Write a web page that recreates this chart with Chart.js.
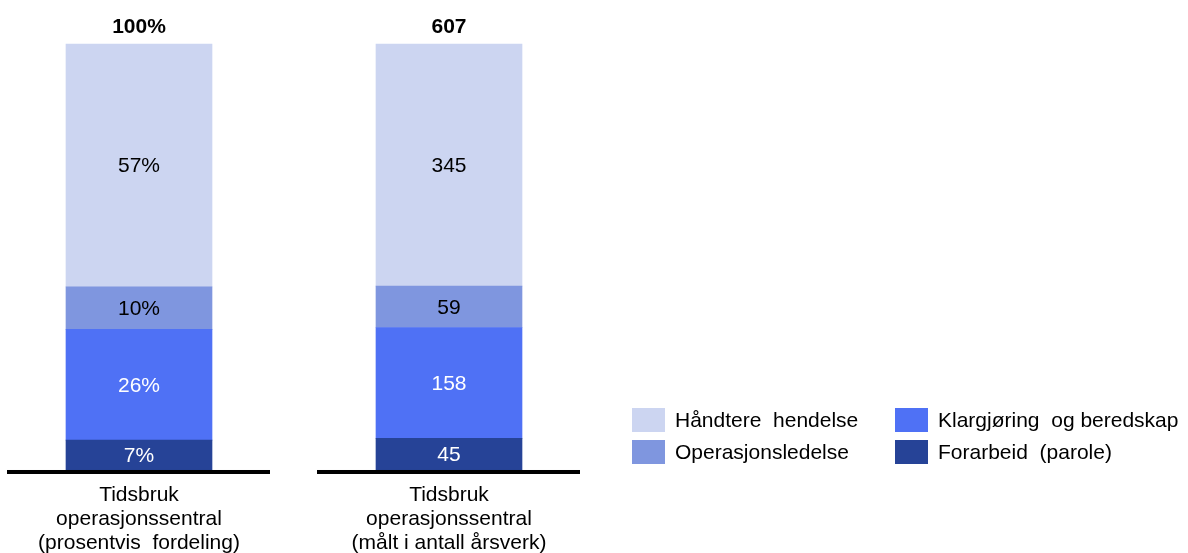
<!DOCTYPE html>
<html>
<head>
<meta charset="utf-8">
<script src="https://cdn.jsdelivr.net/npm/chart.js@4"></script>
<style>
    body { margin: 0; background: #fff; }
    #chartBox { position: relative; width: 1188px; height: 553px; }
</style>
</head>
<body>
<div id="chartBox"><canvas id="timeChart" width="1188" height="553"></canvas></div>
<script>
// categories (x axis labels, multi-line)
const categories = [
    ['Tidsbruk', 'operasjonssentral', '(prosentvis  fordeling)'],
    ['Tidsbruk', 'operasjonssentral', '(målt i antall årsverk)']
];

// series, bottom to top of the stack
const seriesNames = ['Forarbeid  (parole)', 'Klargjøring  og beredskap', 'Operasjonsledelse', 'Håndtere  hendelse'];
const seriesColors = ['#264397', '#4F71F5', '#7F96DF', '#CCD5F1'];
const seriesTextColors = ['#ffffff', '#ffffff', '#000000', '#000000'];

// values
const percentValues = [7, 26, 10, 57];      // bar 1, percent
const yearWorkValues = [45, 158, 59, 345];  // bar 2, årsverk
const totalLabels = ['100%', '607'];
const yearWorkTotal = 607;

// legend order in the 2x2 grid (row by row)
const legendOrder = [3, 1, 2, 0];

const fontFamily = '"Liberation Sans", Arial, sans-serif';

let datasets = seriesNames.map((name, i) => {
    return {
        label: name,
        data: [percentValues[i], yearWorkValues[i] / yearWorkTotal * 100],
        backgroundColor: seriesColors[i],
        borderWidth: 0,
        barThickness: 146,
        clip: false
    };
});

// draws the numbers in every segment, totals above the bars and the base lines
const barLabels = {
    id: 'barLabels',
    afterDatasetsDraw(chart) {
        let ctx = chart.ctx;
        ctx.save();
        ctx.textAlign = 'center';
        ctx.textBaseline = 'middle';
        ctx.font = '21px ' + fontFamily;
        chart.data.datasets.forEach((ds, i) => {
            let meta = chart.getDatasetMeta(i);
            meta.data.forEach((bar, j) => {
                let text = j === 0 ? percentValues[i] + '%' : String(yearWorkValues[i]);
                ctx.fillStyle = seriesTextColors[i];
                ctx.fillText(text, bar.x, (bar.y + bar.base) / 2 + 1);
            });
        });

        // totals
        let topMeta = chart.getDatasetMeta(chart.data.datasets.length - 1);
        ctx.font = 'bold 21px ' + fontFamily;
        ctx.fillStyle = '#000';
        topMeta.data.forEach((bar, j) => {
            ctx.fillText(totalLabels[j], bar.x, bar.y - 17);
        });

        // black base line under each bar
        let bottom = chart.chartArea.bottom;
        topMeta.data.forEach(bar => {
            ctx.fillRect(bar.x - 132, bottom, 263, 4);
        });
        ctx.restore();
    }
};

// legend as 2 x 2 grid on the right
const gridLegend = {
    id: 'gridLegend',
    afterDraw(chart) {
        let ctx = chart.ctx;
        let colX = [632, 895];
        let rowY = [408, 440];
        ctx.save();
        ctx.font = '21px ' + fontFamily;
        ctx.textAlign = 'left';
        ctx.textBaseline = 'middle';
        legendOrder.forEach((s, k) => {
            let x = colX[k % 2];
            let y = rowY[Math.floor(k / 2)];
            ctx.fillStyle = seriesColors[s];
            ctx.fillRect(x, y, 33, 24);
            ctx.fillStyle = '#000';
            ctx.fillText(seriesNames[s], x + 43, y + 13);
        });
        ctx.restore();
    }
};

let ctx = document.getElementById('timeChart').getContext('2d');
let timeChart = new Chart(ctx, {
    type: 'bar',
    data: {
        labels: categories,
        datasets: datasets
    },
    options: {
        responsive: false,
        animation: false,
        devicePixelRatio: 1,
        layout: {
            padding: { left: 139, right: 739, top: 44, bottom: -15 }
        },
        scales: {
            x: {
                stacked: true,
                offset: false,
                grid: { display: false, drawTicks: false },
                border: { display: false },
                ticks: {
                    color: '#000',
                    font: { family: fontFamily, size: 21, lineHeight: 1.143 },
                    padding: 13,
                    maxRotation: 0,
                    autoSkip: false
                }
            },
            y: {
                stacked: true,
                display: false,
                min: 0,
                max: 100
            }
        },
        plugins: {
            legend: { display: false },
            tooltip: { enabled: false }
        }
    },
    plugins: [barLabels, gridLegend]
});
</script>
</body>
</html>
